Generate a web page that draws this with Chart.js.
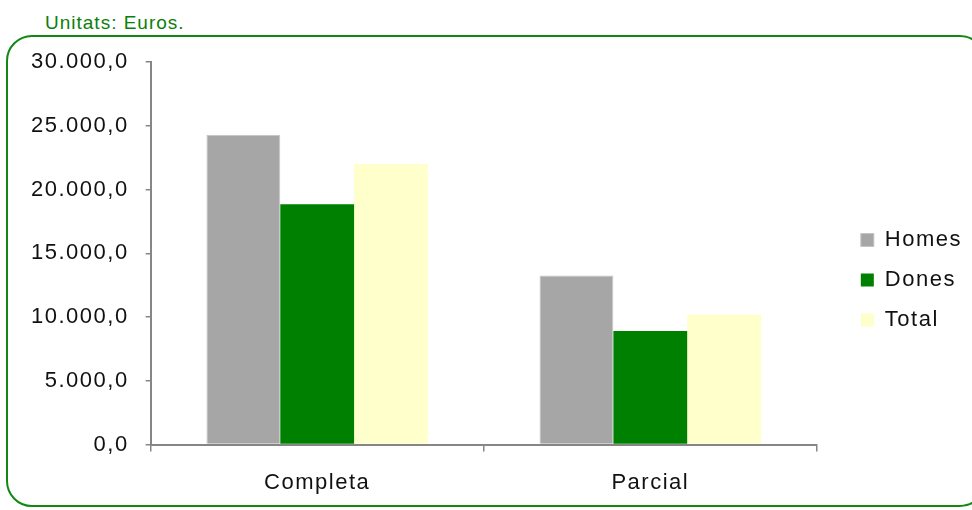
<!DOCTYPE html>
<html>
<head>
<meta charset="utf-8">
<script src="https://cdn.jsdelivr.net/npm/chart.js@4.4.0/dist/chart.umd.min.js"></script>
<style>
    html, body { margin: 0; padding: 0; background: #fff; overflow: hidden; }
    #wrap { position: relative; width: 972px; height: 510px; }
    #units {
        position: absolute; left: 45px; top: 12px;
        font: 19px "Liberation Sans", Arial, sans-serif; letter-spacing: 1px;
        color: #0a800a;
    }
    #frame {
        position: absolute; left: 6px; top: 35px; width: 980px; height: 472px;
        border: 2px solid #118811; border-radius: 26px; box-sizing: border-box;
    }
    #chart { position: absolute; left: 0; top: 0; }
</style>
</head>
<body>
<div id="wrap">
    <div id="units">Unitats: Euros.</div>
    <div id="frame"></div>
    <canvas id="chart" width="972" height="510"></canvas>
</div>
<script>
const categories = ['Completa', 'Parcial'];
const homes = [24300, 13250];
const dones = [18850, 8900];
const total = [22000, 10200];
const yTicks = [0, 5000, 10000, 15000, 20000, 25000, 30000];

function formatEuro(v) {
    const s = Math.round(v).toString().replace(/\B(?=(\d{3})+(?!\d))/g, '.');
    return s + ',0';
}

// Excel-like wide lettering and legend placement
const spacingPlugin = {
    id: 'spacing',
    beforeLayout(chart) { chart.ctx.letterSpacing = '1.5px'; },
    beforeDraw(chart) { chart.ctx.letterSpacing = '1.5px'; },
    afterLayout(chart) {
        const lg = chart.legend;
        if (!lg) return;
        const dx = 26, dy = -8;
        lg.left += dx; lg.right += dx;
        lg.top += dy; lg.bottom += dy;
    }
};

const axisColor = '#868686';
const fontFamily = '"Liberation Sans", Arial, sans-serif';

const ctx = document.getElementById('chart').getContext('2d');
const chart = new Chart(ctx, {
    type: 'bar',
    data: {
        labels: categories,
        datasets: [{
            label: 'Homes',
            data: homes,
            backgroundColor: '#a6a6a6',
            borderColor: '#c4c4c4',
            borderWidth: 1
        }, {
            label: 'Dones',
            data: dones,
            backgroundColor: '#008000'
        }, {
            label: 'Total',
            data: total,
            backgroundColor: '#ffffcc'
        }]
    },
    options: {
        responsive: false,
        animation: false,
        datasets: {
            bar: {
                categoryPercentage: 0.665,
                barPercentage: 1
            }
        },
        layout: {
            padding: { left: 14, top: 62, right: 26, bottom: -4 }
        },
        scales: {
            x: {
                grid: {
                    drawOnChartArea: false,
                    tickLength: 7,
                    color: axisColor,
                    lineWidth: 1.5
                },
                border: { color: axisColor, width: 2 },
                ticks: {
                    color: '#111',
                    padding: 18,
                    font: { family: fontFamily, size: 22 }
                }
            },
            y: {
                min: 0,
                max: 30000,
                afterBuildTicks: function (axis) {
                    axis.ticks = yTicks.map(v => ({ value: v }));
                },
                grid: {
                    drawOnChartArea: false,
                    tickLength: 5,
                    color: axisColor,
                    lineWidth: 1.5
                },
                border: { color: axisColor, width: 2 },
                ticks: {
                    color: '#111',
                    padding: 17,
                    font: { family: fontFamily, size: 22 },
                    callback: function (value) {
                        return formatEuro(value);
                    }
                }
            }
        },
        plugins: {
            legend: {
                position: 'right',
                labels: {
                    boxWidth: 13,
                    boxHeight: 13,
                    padding: 18,
                    color: '#111',
                    font: { family: fontFamily, size: 22 }
                }
            },
            tooltip: { enabled: false }
        }
    },
    plugins: [spacingPlugin]
});
</script>
</body>
</html>
